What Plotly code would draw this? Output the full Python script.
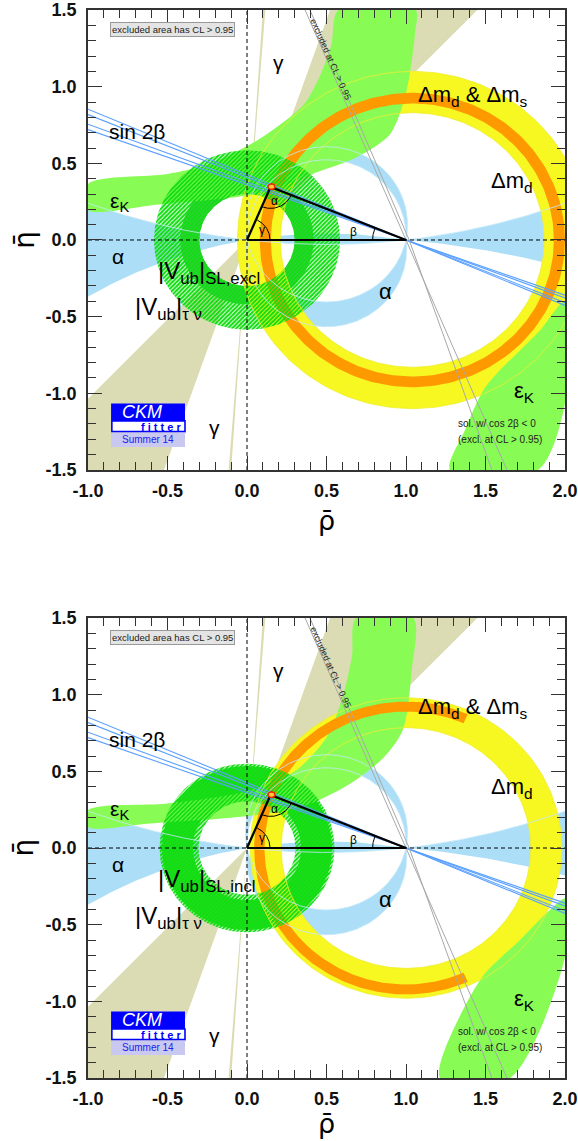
import numpy as np
import plotly.graph_objects as go

# ---------------- values (index 0 = top panel, 1 = bottom panel) ----------------
VUB_SUBSCRIPT = ["SL,excl", "SL,incl"]

APEX_RHO = [0.148, 0.148]
APEX_ETA = [0.346, 0.346]

DMD_CENTER_RHO = [1.04, 1.0]
DMD_R_IN = [0.83, 0.785]
DMD_R_OUT = [1.10, 0.98]
DMS_R_IN = [0.89, 0.89]
DMS_R_OUT = [0.96, 0.955]
DMS_ARC_FROM_DEG = [0.0, 66.0]
DMS_ARC_TO_DEG = [360.0, 294.0]

VUB_SOLID_R_IN = [0.30, 0.34]
VUB_SOLID_R_OUT = [0.42, 0.535]
VUB_TAUNU_R_IN = [0.30, 0.305]
VUB_TAUNU_R_OUT = [0.585, 0.55]

GAMMA_MAIN_DEG = [46.0, 70.8]
GAMMA_ALT_DEG = [85.6, 86.2]

# alpha constraint: circles through (0,0) and (1,0), centre (0.5, k)
ALPHA_FLAT_K_TOP = 4.29
ALPHA_FLAT_K_BOTTOM_LEFT = -2.89
ALPHA_FLAT_K_BOTTOM_RIGHT = -5.65
ALPHA_UPPER_ARC_K = [0.023, 0.099]
ALPHA_LOWER_ARC_K = [-0.062, 0.107]

# sin 2beta lines through (1,0): eta at rho = -1
SIN2B_ETA_AT_RHO_M1 = [0.853, 0.818, 0.755, 0.72]

# cos 2beta < 0 solution lines (grey)
GREY1_RHO = [0.365, 1.0, 1.635]
GREY2_RHO = [0.396, 1.02, 1.54]
GREY_ETA = [1.5, 0.0, -1.5]

# epsilon_K upper branch (outline), per panel
EPSK_UP_RHO = [
    [-1.0, -0.5, -0.25, 0.08, 0.354, 0.45, 0.53, 0.575, 1.06, 1.057, 1.0, 0.9, 0.69, 0.417, 0.21, 0.0, -0.57, -1.0],
    [-1.0, -0.5, 0.0, 0.3, 0.5, 0.6, 0.66, 0.686, 1.046, 1.036, 0.98, 0.86, 0.65, 0.40, 0.1, -0.61, -1.0],
]
EPSK_UP_ETA = [
    [0.365, 0.43, 0.49, 0.66, 0.88, 1.05, 1.27, 1.5, 1.5, 1.35, 0.957, 0.69, 0.54, 0.433, 0.346, 0.29, 0.23, 0.196],
    [0.246, 0.29, 0.37, 0.5, 0.72, 0.98, 1.25, 1.5, 1.5, 1.16, 0.77, 0.59, 0.42, 0.29, 0.22, 0.16, 0.137],
]
# epsilon_K lower branch
EPSK_LO_RHO = [
    [1.277, 1.371, 1.486, 1.59, 1.717, 1.843, 2.0, 2.0, 1.83],
    [1.214, 1.465, 1.717, 1.925, 2.0, 2.0, 1.654],
]
EPSK_LO_ETA = [
    [-1.5, -1.24, -0.98, -0.85, -0.72, -0.59, -0.40, -1.065, -1.5],
    [-1.5, -0.863, -0.60, -0.385, -0.33, -0.71, -1.5],
]

TICK_VALUES = [-1.5, -1.0, -0.5, 0.0, 0.5, 1.0, 1.5, 2.0]
TICK_TEXT = ["-1.5", "-1.0", "-0.5", "0.0", "0.5", "1.0", "1.5", "2.0"]

# ---------------- colours ----------------
C_ALPHA = "#acdff7"
C_GAMMA = "#dcdcb4"
C_EPSK = "#88fc55"
C_DMD = "#f7f722"
C_DMS = "#ff9900"
C_VUB_SOLID = ["#3ccb48", "#22dd22"]
C_HATCH = "#11dd11"
C_SIN2B = "#5aa0ff"
C_GREY = "#a8a8a8"

FONT = "Liberation Sans"


def arc(cx, cy, r, a0, a1, n=240):
    t = np.radians(np.linspace(a0, a1, n))
    return cx + r * np.cos(t), cy + r * np.sin(t)


def band(cx, cy, rin, rout, a0, a1):
    xo, yo = arc(cx, cy, rout, a0, a1)
    xi, yi = arc(cx, cy, rin, a1, a0)
    return np.r_[xo, xi, xo[:1]], np.r_[yo, yi, yo[:1]]


def chord_arc(k, upper, n=300):
    cx, cy, r = 0.5, k, np.hypot(0.5, k)
    t1 = np.arctan2(-cy, 0.5)
    t0 = np.arctan2(-cy, -0.5)
    if upper:
        if t0 < t1:
            t0 += 2 * np.pi
        t = np.linspace(t1, t0, n)
    else:
        if t1 < t0:
            t1 += 2 * np.pi
        t = np.linspace(t0, t1, n)
    return cx + r * np.cos(t), cy + r * np.sin(t)


def flat_eta(k, rho, lower):
    r = np.hypot(0.5, k)
    s = np.sqrt(r * r - (rho - 0.5) ** 2)
    return k - s if lower else k + s


fig = go.Figure()


def poly(x, y, color, xa, ya, spline=False, line=None, pattern=None):
    kw = dict(x=x, y=y, mode="lines", fill="toself", xaxis=xa, yaxis=ya,
              hoverinfo="skip", showlegend=False)
    if pattern is not None:
        kw["fillpattern"] = pattern
        kw["fillcolor"] = "rgba(0,0,0,0)"
    else:
        kw["fillcolor"] = color
    kw["line"] = line if line is not None else dict(width=0, color=color)
    if spline:
        kw["line"]["shape"] = "spline"
        kw["line"]["smoothing"] = 0.8
    fig.add_trace(go.Scatter(**kw))


def line(x, y, color, width, xa, ya, dash=None):
    fig.add_trace(go.Scatter(x=x, y=y, mode="lines", xaxis=xa, yaxis=ya,
                             line=dict(color=color, width=width, dash=dash),
                             hoverinfo="skip", showlegend=False))


annotations = []
shapes = []

for p in range(2):
    xa = "x" if p == 0 else "x2"
    ya = "y" if p == 0 else "y2"

    # ---- alpha (flat solutions: left wedge, lens, right wedge)
    r_top = np.linspace(-1.0, 2.0, 400)
    r_right = np.linspace(2.0, 1.0, 150)
    r_left = np.linspace(1.0, -1.0, 300)
    ax_ = np.r_[r_top, r_right, r_left]
    ay_ = np.r_[flat_eta(ALPHA_FLAT_K_TOP, r_top, True),
                flat_eta(ALPHA_FLAT_K_BOTTOM_RIGHT, r_right, False),
                flat_eta(ALPHA_FLAT_K_BOTTOM_LEFT, r_left, False)]
    poly(ax_, ay_, C_ALPHA, xa, ya)
    x1, y1 = chord_arc(ALPHA_UPPER_ARC_K[0], True)
    x2, y2 = chord_arc(ALPHA_UPPER_ARC_K[1], True)
    poly(np.r_[x1, x2[::-1]], np.r_[y1, y2[::-1]], C_ALPHA, xa, ya)
    x1, y1 = chord_arc(ALPHA_LOWER_ARC_K[0], False)
    x2, y2 = chord_arc(ALPHA_LOWER_ARC_K[1], False)
    poly(np.r_[x1, x2[::-1]], np.r_[y1, y2[::-1]], C_ALPHA, xa, ya)

    # ---- gamma wedges
    for angs in (GAMMA_MAIN_DEG, GAMMA_ALT_DEG):
        a1, a2 = np.radians(angs)
        L = 3.0
        gx = [0, L * np.cos(a1), L * np.cos(a2), 0, -L * np.cos(a1), -L * np.cos(a2), 0]
        gy = [0, L * np.sin(a1), L * np.sin(a2), 0, -L * np.sin(a1), -L * np.sin(a2), 0]
        poly(gx, gy, C_GAMMA, xa, ya)

    # ---- |Vub| solid ring
    vx, vy = band(0, 0, VUB_SOLID_R_IN[p], VUB_SOLID_R_OUT[p], 0, 360)
    poly(vx, vy, C_VUB_SOLID[p], xa, ya)

    # ---- Delta m_d ring
    dx, dy = band(DMD_CENTER_RHO[p], 0, DMD_R_IN[p], DMD_R_OUT[p], 0, 360)
    poly(dx, dy, C_DMD, xa, ya)

    # ---- eps_K upper branch
    poly(EPSK_UP_RHO[p] + EPSK_UP_RHO[p][:1], EPSK_UP_ETA[p] + EPSK_UP_ETA[p][:1],
         C_EPSK, xa, ya, spline=True)

    # ---- Delta m_d & Delta m_s ring
    sx, sy = band(DMD_CENTER_RHO[p], 0, DMS_R_IN[p], DMS_R_OUT[p],
                  DMS_ARC_FROM_DEG[p], DMS_ARC_TO_DEG[p])
    poly(sx, sy, C_DMS, xa, ya)

    # ---- eps_K lower branch
    poly(EPSK_LO_RHO[p] + EPSK_LO_RHO[p][:1], EPSK_LO_ETA[p] + EPSK_LO_ETA[p][:1],
         C_EPSK, xa, ya, spline=True)

    # ---- |Vub| tau nu hatched ring
    hx, hy = band(0, 0, VUB_TAUNU_R_IN[p], VUB_TAUNU_R_OUT[p], 0, 360)
    poly(hx, hy, C_HATCH, xa, ya,
         pattern=dict(shape="/", fgcolor=C_HATCH, size=3, solidity=0.7, fillmode="replace"))

    # ---- thin contour lines drawn on top
    for r in (DMD_R_IN[p], DMD_R_OUT[p]):
        cx_, cy_ = arc(DMD_CENTER_RHO[p], 0, r, 0, 360)
        line(cx_, cy_, "#eeee30", 0.8, xa, ya)
    for k in ALPHA_UPPER_ARC_K:
        cx_, cy_ = chord_arc(k, True)
        line(cx_, cy_, "#c5e8f8", 0.8, xa, ya)
    for k in ALPHA_LOWER_ARC_K:
        cx_, cy_ = chord_arc(k, False)
        line(cx_, cy_, "#c5e8f8", 0.8, xa, ya)
    rr = np.linspace(-1.0, 2.0, 300)
    line(rr, flat_eta(ALPHA_FLAT_K_TOP, rr, True), "#c5e8f8", 0.8, xa, ya)

    # ---- sin 2beta lines through (1,0)
    for e in SIN2B_ETA_AT_RHO_M1:
        line([-1.0, 1.0, 2.0], [e, 0.0, -e / 2.0], C_SIN2B, 1.1, xa, ya)

    # ---- grey lines (cos 2beta < 0)
    line(GREY1_RHO, GREY_ETA, C_GREY, 1.0, xa, ya)
    line(GREY2_RHO, GREY_ETA, C_GREY, 1.0, xa, ya)

    # ---- dashed axes
    line([-1.0, 2.0], [0, 0], "black", 1.0, xa, ya, dash="4px,3px")
    line([0, 0], [-1.5, 1.5], "black", 1.0, xa, ya, dash="4px,3px")

    # ---- unitarity triangle
    A = (APEX_RHO[p], APEX_ETA[p])
    line([0, 1, A[0], 0], [0, 0, A[1], 0], "black", 2.2, xa, ya)
    g = np.degrees(np.arctan2(A[1], A[0]))
    gx_, gy_ = arc(0, 0, 0.145, 0, g, 60)
    line(gx_, gy_, "black", 1.0, xa, ya)
    b = np.degrees(np.arctan2(A[1], A[0] - 1))
    bx_, by_ = arc(1, 0, 0.21, b, 180, 60)
    line(bx_, by_, "black", 1.0, xa, ya)
    a_to0 = np.degrees(np.arctan2(-A[1], -A[0]))
    a_to1 = np.degrees(np.arctan2(-A[1], 1 - A[0]))
    aa_x, aa_y = arc(A[0], A[1], 0.14, a_to0, a_to1, 60)
    line(aa_x, aa_y, "black", 1.0, xa, ya)
    ex, ey = arc(A[0] + 0.006, A[1] + 0.002, 0.022, 0, 360, 60)
    fig.add_trace(go.Scatter(x=ex, y=A[1] + 0.002 + (ey - A[1] - 0.002) * 0.85, mode="lines",
                             fill="toself", fillcolor="#ffcc33",
                             line=dict(color="#ee2200", width=1.4),
                             xaxis=xa, yaxis=ya, hoverinfo="skip", showlegend=False))

    def ann(x, y, text, size=21, xanchor="left", color="black", **kw):
        annotations.append(dict(x=x, y=y, xref=xa, yref=ya, text=text, showarrow=False,
                                xanchor=xanchor, yanchor="middle",
                                font=dict(family=FONT, size=size, color=color), **kw))

    ann(-0.882, 0.705, "sin 2β")
    ann(-0.874, 0.245 if p == 0 else 0.25, "ε<sub>K</sub>")
    ann(-0.811, -0.11, "α", xanchor="center")
    ann(-0.575, -0.215, "|V<sub>ub</sub>|<sub>" + VUB_SUBSCRIPT[p] + "</sub>", size=24)
    ann(-0.72, -0.45, "|V<sub>ub</sub>|<sub>τ ν</sub>", size=24)
    ann(0.195, 1.16, "γ", size=21, xanchor="center")
    ann(-0.207, -1.22, "γ", size=21, xanchor="center")
    ann(1.06, 0.94 if p == 0 else 0.915, "Δm<sub>d</sub> &amp; Δm<sub>s</sub>", size=22)
    ann(1.52, 0.38 if p == 0 else 0.39, "Δm<sub>d</sub>", size=22)
    ann(0.868, -0.338, "α", xanchor="center", size=22)
    ann(1.665, -0.99, "ε<sub>K</sub>", size=22)
    ann(1.313, -1.198, "sol. w/ cos 2β &lt; 0", size=10, color="#222")
    ann(1.313, -1.298, "(excl. at CL &gt; 0.95)", size=10, color="#222")
    ann(0.176, 0.252, "α", size=12, xanchor="center")
    ann(0.097, 0.063, "γ", size=12, xanchor="center")
    ann(0.67, 0.05, "β", size=12, xanchor="center")
    ann(0.525, 1.18, "excluded at CL &gt; 0.95", size=9, xanchor="center", textangle=66, color="#222")
    annotations.append(dict(x=-0.47, y=1.37, xref=xa, yref=ya, text="excluded area has CL &gt; 0.95",
                            showarrow=False, xanchor="center", yanchor="middle",
                            bgcolor="#e4e4e4", bordercolor="#999", borderwidth=1, borderpad=1,
                            font=dict(family=FONT, size=9.5, color="#222")))

    # ---- CKMfitter logo
    shapes.append(dict(type="rect", xref=xa, yref=ya, x0=-0.855, x1=-0.39, y0=-1.18, y1=-1.067,
                       fillcolor="#0000ff", line=dict(width=0)))
    shapes.append(dict(type="rect", xref=xa, yref=ya, x0=-0.85, x1=-0.39, y0=-1.25, y1=-1.18,
                       fillcolor="white", line=dict(width=1.6, color="#0000ff")))
    shapes.append(dict(type="rect", xref=xa, yref=ya, x0=-0.855, x1=-0.39, y0=-1.35, y1=-1.256,
                       fillcolor="#c8c8f0", line=dict(width=0)))
    annotations.append(dict(x=-0.80, y=-1.122, xref=xa, yref=ya, text="<i>CKM</i>", showarrow=False,
                            xanchor="left", yanchor="middle",
                            font=dict(family=FONT, size=18, color="white")))
    annotations.append(dict(x=-0.405, y=-1.217, xref=xa, yref=ya, text="<b>f i t t e r</b>", showarrow=False,
                            xanchor="right", yanchor="middle",
                            font=dict(family=FONT, size=11, color="#0000ff")))
    annotations.append(dict(x=-0.622, y=-1.303, xref=xa, yref=ya, text="Summer 14", showarrow=False,
                            xanchor="center", yanchor="middle",
                            font=dict(family=FONT, size=10, color="#2222ee")))

# axis titles (paper coordinates of the plotting area)
for yp in (0.522, -0.043):
    annotations.append(dict(x=0.499, y=yp, xref="paper", yref="paper", text="ρ̄", showarrow=False,
                            xanchor="center", yanchor="middle",
                            font=dict(family="DejaVu Sans", size=27, color="black")))
for yp in (0.7846, 0.2154):
    annotations.append(dict(x=-0.135, y=yp, xref="paper", yref="paper", text="η̄", showarrow=False,
                            xanchor="center", yanchor="middle", textangle=-90,
                            font=dict(family="DejaVu Sans", size=28, color="black")))

axis_common = dict(
    showgrid=False, zeroline=False, showline=True, linecolor="#333", linewidth=1.5,
    mirror="ticks", ticks="inside", ticklen=14, tickwidth=1.2, tickcolor="#333",
    tickmode="array", tickvals=TICK_VALUES, ticktext=TICK_TEXT, automargin=False,
    ticklabeloverflow="allow",
    tickfont=dict(family=FONT, size=18, color="#111", weight="bold"),
    minor=dict(ticks="inside", ticklen=8, tickwidth=1, tickcolor="#333", dtick=0.1, tick0=0,
               showgrid=False),
)
xstyle = dict(axis_common, ticklabelstandoff=4)
ystyle = dict(axis_common, ticklabelstandoff=6)

fig.update_layout(
    width=578, height=1141,
    margin=dict(l=88, r=13, t=10, b=63, autoexpand=False),
    paper_bgcolor="white", plot_bgcolor="white",
    xaxis=dict(domain=[0, 1], anchor="y", range=[-1, 2], **xstyle),
    yaxis=dict(domain=[0.5693, 1], anchor="x", range=[-1.5, 1.5], **ystyle),
    xaxis2=dict(domain=[0, 1], anchor="y2", range=[-1, 2], **xstyle),
    yaxis2=dict(domain=[0, 0.4307], anchor="x2", range=[-1.5, 1.5], **ystyle),
    annotations=annotations,
    shapes=shapes,
    showlegend=False,
)

# remove the default 8px page margin so the figure fills the window exactly
fig.write_html("out.html", config={"displayModeBar": False},
               post_script="document.body.style.margin='0px';")
